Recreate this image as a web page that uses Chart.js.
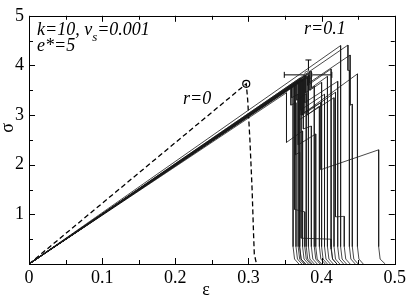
<!DOCTYPE html>
<html><head><meta charset="utf-8">
<script src="https://cdn.jsdelivr.net/npm/chart.js@4"></script>
<style>html,body{margin:0;padding:0;background:#fff}#wrap{position:relative;width:409px;height:299px}</style>
</head><body><div id="wrap"><canvas id="c" width="409" height="299"></canvas></div>
<script>
// axis ticks
const xTickLabels = ['0','0.1','0.2','0.3','0.4','0.5'];
const yTickLabels = ['','1','2','3','4','5'];
const xMinor = [0.05,0.15,0.25,0.35,0.45];
const yMinor = [0.5,1.5,2.5,3.5,4.5];
const xTitle = '\u03b5';
const yTitle = '\u03c3';

// r = 0 (dashed) curve and its failure point
const rZero = [[0,0],[0.297,3.63],[0.299,3.3],[0.302,2.5],[0.305,1.5],[0.307,0.6],[0.308,0.2],[0.311,0]];
const rZeroPeak = [[0.297,3.63]];

// r = 0.1 : mean failure point with error bars
const rOnePeak = [[0.382,3.81]];
const errX = [0.349,0.414];
const errY = [3.5,4.11];

// r = 0.1 individual samples
const c01 = [[0,0],[0.361,3.62],[0.361,0.35],[0.363,0.1],[0.369,0]];
const c02 = [[0,0],[0.358,3.55],[0.358,3.2],[0.365,3.25],[0.365,0.35],[0.367,0.1],[0.373,0]];
const c03 = [[0,0],[0.370,3.74],[0.370,0.35],[0.372,0.1],[0.378,0]];
const c04 = [[0,0],[0.352,3.45],[0.352,2.45],[0.374,2.68],[0.374,0.35],[0.376,0.1],[0.382,0]];
const c05 = [[0,0],[0.366,3.68],[0.366,3.3],[0.379,3.43],[0.379,0.35],[0.381,0.1],[0.387,0]];
const c06 = [[0,0],[0.382,3.82],[0.382,0.35],[0.384,0.1],[0.390,0]];
const c07 = [[0,0],[0.375,3.72],[0.375,2.72],[0.386,2.78],[0.386,0.35],[0.388,0.1],[0.394,0]];
const c08 = [[0,0],[0.378,3.80],[0.378,3.45],[0.390,3.58],[0.390,0.35],[0.392,0.1],[0.398,0]];
const c09 = [[0,0],[0.363,3.60],[0.363,1.10],[0.377,1.05],[0.377,0.35],[0.379,0.1],[0.385,0]];
const c10 = [[0,0],[0.372,3.70],[0.372,0.52],[0.413,0.50],[0.413,0.3],[0.415,0.1],[0.421,0]];
const c11 = [[0,0],[0.368,3.66],[0.368,2.40],[0.392,2.62],[0.392,0.35],[0.394,0.1],[0.400,0]];
const c12 = [[0,0],[0.380,3.78],[0.380,3.00],[0.397,3.18],[0.397,0.35],[0.399,0.1],[0.405,0]];
const c13 = [[0,0],[0.376,3.74],[0.376,3.05],[0.399,3.25],[0.399,1.90],[0.478,2.30],[0.478,0.35],[0.480,0.1],[0.487,0]];
const c14 = [[0,0],[0.384,3.86],[0.384,3.50],[0.400,3.66],[0.400,0.35],[0.402,0.1],[0.408,0]];
const c15 = [[0,0],[0.371,3.68],[0.371,3.10],[0.404,3.42],[0.404,0.35],[0.406,0.1],[0.412,0]];
const c16 = [[0,0],[0.386,3.88],[0.386,3.55],[0.408,3.78],[0.408,0.35],[0.410,0.1],[0.416,0]];
const c17 = [[0,0],[0.381,3.76],[0.381,3.60],[0.413,3.93],[0.413,0.35],[0.415,0.1],[0.421,0]];
const c18 = [[0,0],[0.369,3.70],[0.369,2.90],[0.417,3.35],[0.417,0.35],[0.419,0.1],[0.425,0]];
const c19 = [[0,0],[0.377,3.78],[0.377,3.25],[0.422,3.68],[0.422,0.35],[0.424,0.1],[0.430,0]];
const c20 = [[0,0],[0.426,4.40],[0.426,0.35],[0.428,0.1],[0.434,0]];
const c21 = [[0,0],[0.374,3.72],[0.374,3.00],[0.419,3.46],[0.419,0.95],[0.431,0.96],[0.431,0.35],[0.433,0.1],[0.439,0]];
const c22 = [[0,0],[0.436,4.41],[0.436,3.90],[0.438,3.90],[0.438,0.35],[0.440,0.1],[0.446,0]];
const c23 = [[0,0],[0.383,3.80],[0.383,3.65],[0.439,4.21],[0.439,3.20],[0.442,3.22],[0.442,0.35],[0.444,0.1],[0.450,0]];
const c24 = [[0,0],[0.372,3.72],[0.372,3.00],[0.449,3.83],[0.449,0.35],[0.451,0.1],[0.457,0]];
const c25 = [[0,0],[0.364,3.64],[0.364,2.20],[0.370,2.25],[0.370,0.35],[0.372,0.1],[0.378,0]];
const c26 = [[0,0],[0.359,3.58],[0.359,3.35],[0.368,3.42],[0.368,0.35],[0.370,0.1],[0.376,0]];

const samples = [c01,c02,c03,c04,c05,c06,c07,c08,c09,c10,c11,c12,c13,c14,c15,c16,c17,c18,c19,c20,c21,c22,c23,c24,c25,c26];

const pts = a => a.map(p => ({x:p[0], y:p[1]}));

const datasets = samples.map(s => ({
  data: pts(s), showLine:true, borderColor:'#1a1a1a', borderWidth:0.8,
  pointRadius:0, tension:0, fill:false
}));
datasets.push({data: pts(rZero), showLine:true, borderColor:'#000', borderWidth:1.3,
  borderDash:[5,3], pointRadius:0, tension:0, fill:false});
datasets.push({data: pts(rZeroPeak), showLine:false, pointRadius:3.5, pointStyle:'circle',
  borderColor:'#000', borderWidth:1.2, backgroundColor:'rgba(255,255,255,0)'});
datasets.push({data: pts(rOnePeak), showLine:false, pointRadius:4, pointStyle:'circle',
  borderColor:'#666', borderWidth:1, backgroundColor:'#fff'});

const serif = '"Liberation Serif", "Times New Roman", Times, serif';

const deco = {
  id:'deco',
  beforeDatasetsDraw(chart){
    const {ctx, scales:{x,y}} = chart;
    ctx.save();
    ctx.strokeStyle = '#000'; ctx.lineWidth = 1;
    const cx = x.getPixelForValue(rOnePeak[0][0]), cy = y.getPixelForValue(rOnePeak[0][1]);
    const x0 = x.getPixelForValue(errX[0]), x1 = x.getPixelForValue(errX[1]);
    const y0 = y.getPixelForValue(errY[0]), y1 = y.getPixelForValue(errY[1]);
    ctx.beginPath();
    ctx.moveTo(x0, cy); ctx.lineTo(x1, cy);
    ctx.moveTo(x0, cy-3); ctx.lineTo(x0, cy+3);
    ctx.moveTo(x1, cy-3); ctx.lineTo(x1, cy+3);
    ctx.moveTo(cx, y0); ctx.lineTo(cx, y1);
    ctx.moveTo(cx-3, y1); ctx.lineTo(cx+3, y1);
    ctx.stroke();
    ctx.restore();
  },
  afterDraw(chart){
    const {ctx, chartArea:a, scales:{x,y}} = chart;
    ctx.save();
    ctx.strokeStyle = '#000'; ctx.lineWidth = 1;
    ctx.strokeRect(Math.round(a.left)+0.5, Math.round(a.top)+0.5, Math.round(a.right-a.left), Math.round(a.bottom-a.top));
    ctx.beginPath();
    const tick = (v, len, isX) => {
      if (isX) {
        const px = Math.round(x.getPixelForValue(v))+0.5;
        ctx.moveTo(px, a.bottom); ctx.lineTo(px, a.bottom-len);
        ctx.moveTo(px, a.top); ctx.lineTo(px, a.top+len);
      } else {
        const py = Math.round(y.getPixelForValue(v))+0.5;
        ctx.moveTo(a.left, py); ctx.lineTo(a.left+len, py);
        ctx.moveTo(a.right, py); ctx.lineTo(a.right-len, py);
      }
    };
    x.ticks.forEach(t => tick(t.value, 6, true));
    xMinor.forEach(v => tick(v, 4, true));
    y.ticks.forEach(t => tick(t.value, 6, false));
    yMinor.forEach(v => tick(v, 4, false));
    ctx.stroke();
    // annotations
    ctx.fillStyle = '#000';
    ctx.textAlign = 'left'; ctx.textBaseline = 'alphabetic';
    ctx.font = 'italic 18px ' + serif;
    let tx = 37;
    ctx.fillText('k=10, v', tx, 35);
    tx += ctx.measureText('k=10, v').width;
    ctx.font = 'italic 13px ' + serif;
    ctx.fillText('s', tx, 41);
    tx += ctx.measureText('s').width;
    ctx.font = 'italic 18px ' + serif;
    ctx.fillText('=0.001', tx, 35);
    ctx.fillText('e*=5', 37, 51);
    ctx.fillText('r=0', 183, 104);
    ctx.fillText('r=0.1', 304, 34);
    // axis titles
    ctx.font = '18px ' + serif;
    ctx.textAlign = 'center'; ctx.textBaseline = 'middle';
    ctx.fillText(xTitle, 206, 290);
    ctx.translate(8, 128); ctx.rotate(-Math.PI/2); ctx.fillText(yTitle, 0, 0);
    ctx.restore();
  }
};

new Chart(document.getElementById('c'), {
  type:'scatter',
  data:{datasets},
  plugins:[deco],
  options:{
    responsive:false, animation:false, devicePixelRatio:1,
    layout:{padding:{left:0, right:13, top:9, bottom:0}},
    plugins:{legend:{display:false}, tooltip:{enabled:false}},
    scales:{
      x:{type:'linear', min:0, max:0.5,
        afterFit: s => { s.height = 35; },
        grid:{display:false, drawTicks:false}, border:{display:false},
        ticks:{stepSize:0.1, autoSkip:false, padding:3, color:'#000', maxRotation:0,
          font:{family:serif, size:18}, callback:(v,i)=>xTickLabels[i]}},
      y:{type:'linear', min:0, max:5,
        afterFit: s => { s.width = 29; },
        grid:{display:false, drawTicks:false}, border:{display:false},
        ticks:{stepSize:1, autoSkip:false, padding:5, color:'#000',
          font:{family:serif, size:18}, callback:(v,i)=>yTickLabels[i]}}
    }
  }
});
</script></body></html>
